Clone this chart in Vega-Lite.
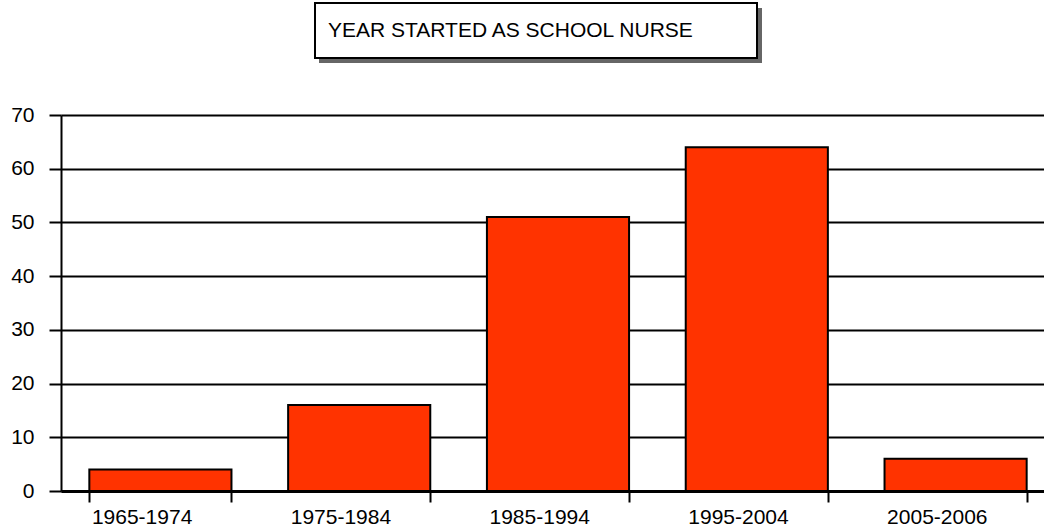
{
  "$schema": "https://vega.github.io/schema/vega-lite/v6.json",
  "background": "white",
  "padding": {"left": 10, "top": 1, "right": 0, "bottom": 0},
  "config": {"font": "Liberation Sans", "view": {"stroke": null}},
  "spacing": 41,
  "center": true,
  "vconcat": [
    {
      "width": 488,
      "height": 62,
      "data": {"values": [{"label": "YEAR STARTED AS SCHOOL NURSE"}]},
      "layer": [
        {
          "mark": {"type": "rect", "fill": "#666666"},
          "encoding": {
            "x": {"datum": 5, "type": "quantitative", "scale": {"domain": [0, 488], "nice": false}, "axis": null},
            "x2": {"datum": 448},
            "y": {"datum": 7, "type": "quantitative", "scale": {"domain": [0, 62], "reverse": true, "nice": false, "zero": false}, "axis": null},
            "y2": {"datum": 62}
          }
        },
        {
          "mark": {"type": "rect", "fill": "white", "stroke": "black", "strokeWidth": 2},
          "encoding": {
            "x": {"datum": 1, "type": "quantitative"},
            "x2": {"datum": 443},
            "y": {"datum": 2, "type": "quantitative"},
            "y2": {"datum": 57}
          }
        },
        {
          "mark": {"type": "text", "align": "left", "baseline": "middle", "fontSize": 21, "font": "Liberation Sans", "color": "black"},
          "encoding": {
            "x": {"datum": 14, "type": "quantitative"},
            "y": {"datum": 30, "type": "quantitative"},
            "text": {"field": "label"}
          }
        }
      ]
    },
    {
      "width": 994,
      "height": 376,
      "data": {
        "values": [
          {"period": "1965-1974", "count": 4},
          {"period": "1975-1984", "count": 16},
          {"period": "1985-1994", "count": 51},
          {"period": "1995-2004", "count": 64},
          {"period": "2005-2006", "count": 6}
        ]
      },
      "mark": {"type": "bar", "fill": "#FF3300", "stroke": "black", "strokeWidth": 2},
      "encoding": {
        "x": {
          "field": "period", "type": "nominal", "sort": null,
          "scale": {"paddingInner": 0.285, "paddingOuter": 0.1425},
          "axis": {
            "title": null, "labelAngle": 0, "labelFontSize": 21, "labelColor": "black",
            "labelFont": "Liberation Sans", "tickBand": "extent", "tickSize": 11,
            "tickColor": "black", "tickWidth": 2, "domainColor": "black", "domainWidth": 3,
            "labelPadding": 4, "grid": false, "labelAlign": "left", "labelOffset": -69
          }
        },
        "y": {
          "field": "count", "type": "quantitative",
          "scale": {"domain": [0, 70], "nice": false},
          "axis": {
            "title": null, "values": [0, 10, 20, 30, 40, 50, 60, 70], "labelFontSize": 21,
            "labelColor": "black", "labelFont": "Liberation Sans", "tickSize": 12,
            "tickColor": "black", "tickWidth": 2, "domainColor": "black", "domainWidth": 2,
            "grid": true, "gridColor": "black", "gridWidth": 2, "gridOpacity": 1, "labelPadding": 15
          }
        }
      }
    }
  ]
}
